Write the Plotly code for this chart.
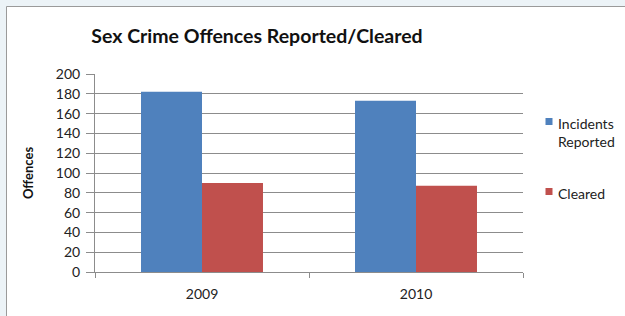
import plotly.graph_objects as go

years = ["2009", "2010"]
reported = [182, 173]
cleared = [90, 87]
y_ticks = list(range(0, 201, 20))
series_names = ["Incidents<br>Reported", "Cleared"]
series_colors = ["#4f81bd", "#c0504d"]

L, R, T, B = 95, 102, 74, 44
W, H = 625, 316
pw, ph = W - L - R, H - T - B

def px(x):
    return (x - L) / pw

def py(y):
    return (H - B - y) / ph

fig = go.Figure()
fig.add_trace(go.Bar(x=years, y=reported, name=series_names[0],
                     marker=dict(color=series_colors[0], line=dict(width=0))))
fig.add_trace(go.Bar(x=years, y=cleared, name=series_names[1],
                     marker=dict(color=series_colors[1], line=dict(width=0))))

font = "Lato, Open Sans, sans-serif"

# custom legend (Excel-style: small square close to the text)
legend_shapes = []
legend_annots = []
legend_rows = [(121.5, 0), (191.5, 1)]
for yc, i in legend_rows:
    legend_shapes.append(dict(type="rect", xref="paper", yref="paper",
                              x0=px(545.5), x1=px(552.5), y0=py(yc + 3.5), y1=py(yc - 3.5),
                              fillcolor=series_colors[i], line=dict(width=0)))
    legend_annots.append(dict(text=series_names[i], xref="paper", yref="paper",
                              x=px(556), y=py(yc - 9), xanchor="left", yanchor="top",
                              align="left", showarrow=False,
                              font=dict(family=font, size=14, color="#222")))

fig.update_layout(
    width=W, height=H,
    margin=dict(l=L, r=R, t=T, b=B, autoexpand=False),
    paper_bgcolor="#ecf3f7",
    plot_bgcolor="rgba(0,0,0,0)",
    barmode="group", bargap=0.43, bargroupgap=0,
    font=dict(family=font, size=14, color="#222"),
    title=dict(text="<b>Sex Crime Offences Reported/Cleared</b>",
               x=257 / W, xref="container", xanchor="center",
               y=1 - 36 / H, yanchor="middle",
               font=dict(family=font, size=19.5, color="#111")),
    showlegend=False,
    xaxis=dict(showline=True, linecolor="#8c8c8c", linewidth=1,
               ticks="outside", tickson="boundaries", ticklen=5, tickcolor="#8c8c8c",
               showgrid=False, ticklabelstandoff=9, tickfont=dict(size=14, color="#222")),
    yaxis=dict(range=[0, 200], tickvals=y_ticks, showline=True, linecolor="#8c8c8c",
               linewidth=1, ticks="outside", ticklen=8, tickcolor="#8c8c8c",
               showgrid=True, gridcolor="#8c8c8c", gridwidth=1, zeroline=False,
               ticklabelstandoff=3,
               tickfont=dict(size=14, color="#222"),
               title=dict(text="<b>Offences</b>", standoff=19,
                          font=dict(size=13, color="#111"))),
    shapes=[dict(type="rect", xref="paper", yref="paper",
                 x0=px(6.5), x1=px(800), y0=py(500), y1=py(6.5),
                 fillcolor="white", line=dict(color="#9a9a9a", width=1), layer="below")]
           + legend_shapes,
    annotations=legend_annots,
)

fig.write_html("out.html", config={"displayModeBar": False},
               post_script="document.body.style.margin='0';document.body.style.overflow='hidden';")
